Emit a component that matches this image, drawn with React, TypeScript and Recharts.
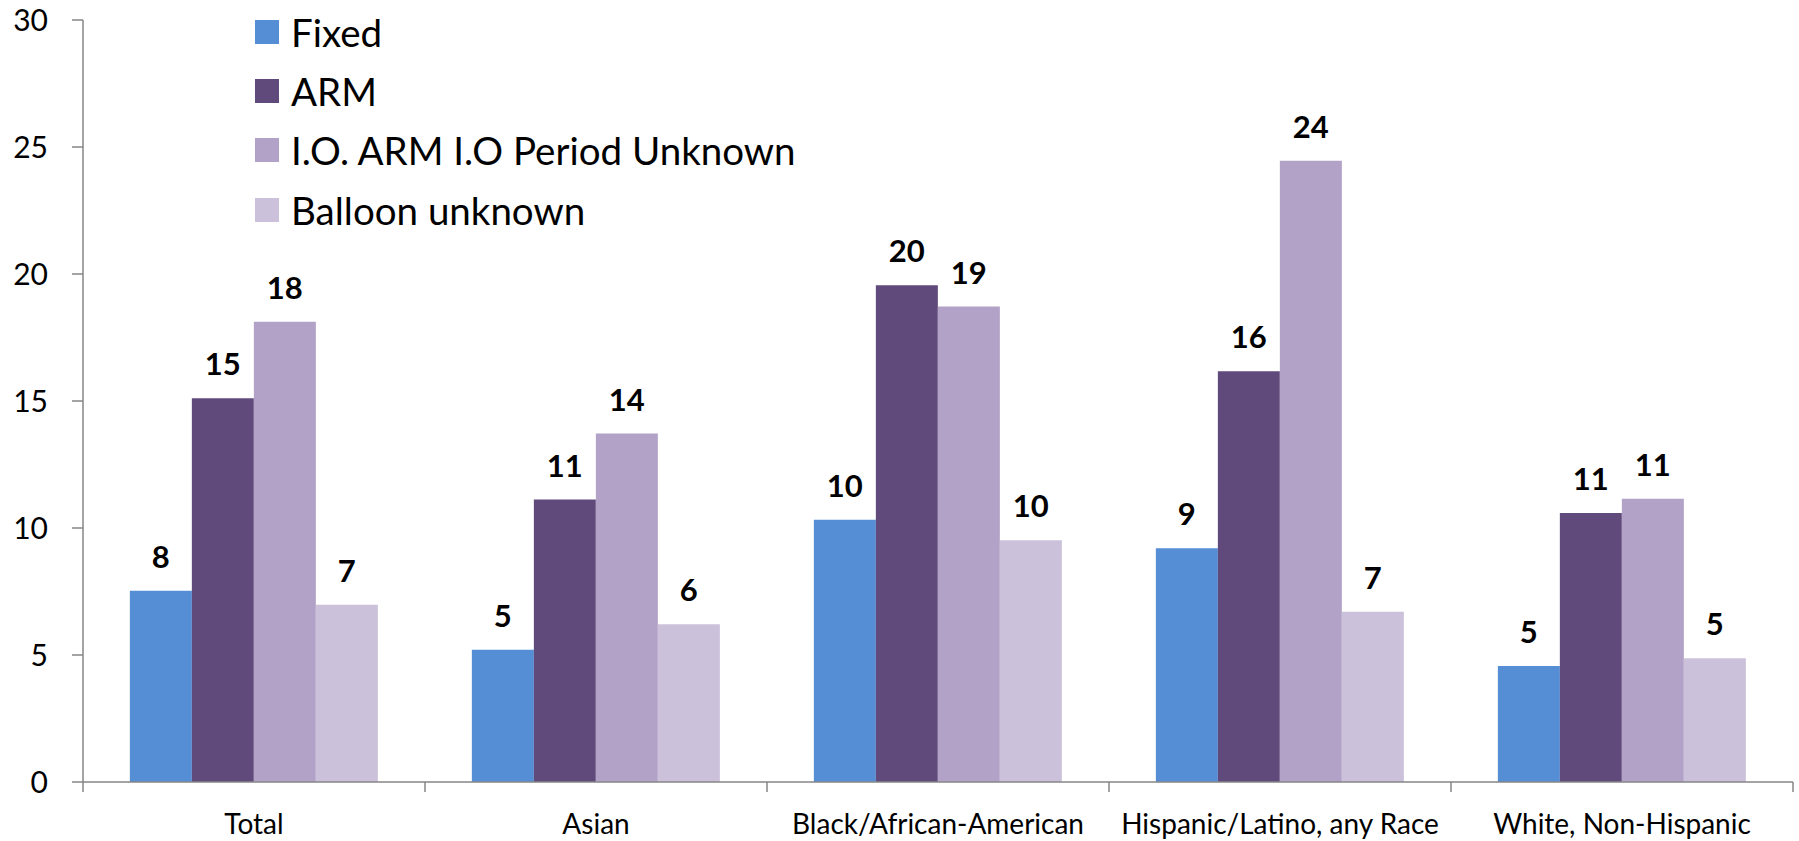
import React from 'react';
import { BarChart, Bar, XAxis, YAxis, Legend, LabelList } from 'recharts';

const categories = ['Total', 'Asian', 'Black/African-American', 'Hispanic/Latino, any Race', 'White, Non-Hispanic'];
const fixedValues = [7.53, 5.21, 10.32, 9.2, 4.57];
const armValues = [15.11, 11.12, 19.56, 16.17, 10.59];
const ioArmValues = [18.12, 13.72, 18.72, 24.46, 11.15];
const balloonValues = [6.98, 6.21, 9.52, 6.7, 4.87];
const yTicks = [0, 5, 10, 15, 20, 25, 30];

const series = [
  { key: 'fixed', name: 'Fixed', color: '#558ED5' },
  { key: 'arm', name: 'ARM', color: '#604A7B' },
  { key: 'ioArm', name: 'I.O. ARM I.O Period Unknown', color: '#B3A2C7' },
  { key: 'balloon', name: 'Balloon unknown', color: '#CCC1DA' },
];

const data = categories.map((name, i) => ({
  name,
  fixed: fixedValues[i],
  arm: armValues[i],
  ioArm: ioArmValues[i],
  balloon: balloonValues[i],
}));

const FONT = 'Lato, "Open Sans", sans-serif';
const AXIS_COLOR = '#868686';

// Excel-style category axis: tick marks on category boundaries, label in the middle
const CategoryTick = (props: any) => {
  const { x, y, payload, index, visibleTicksCount } = props;
  const half = payload && payload.offset ? payload.offset : 171;
  const last = index === visibleTicksCount - 1;
  return (
    <g>
      <line x1={x - half} x2={x - half} y1={y} y2={y + 10} stroke={AXIS_COLOR} strokeWidth={1.5} />
      {last && <line x1={x + half} x2={x + half} y1={y} y2={y + 10} stroke={AXIS_COLOR} strokeWidth={1.5} />}
      <text x={x} y={y + 41} textAnchor="middle" dominantBaseline="central" fontSize={28} fill="#000" fontFamily={FONT}>
        {payload.value}
      </text>
    </g>
  );
};

const renderLegend = () => (
  <div style={{ fontFamily: FONT }}>
    {series.map((s) => (
      <div key={s.key} style={{ display: 'flex', alignItems: 'center', height: 59.3 }}>
        <div style={{ width: 24, height: 24, background: s.color, marginRight: 12 }} />
        <span style={{ fontSize: 38.5, color: '#000', whiteSpace: 'nowrap' }}>{s.name}</span>
      </div>
    ))}
  </div>
);

export default function App() {
  return (
    <div style={{ position: 'absolute', left: 0, top: 0, background: '#fff' }}>
      <BarChart
        width={1799}
        height={841}
        data={data}
        margin={{ top: 20, right: 6, bottom: 0, left: 0 }}
        barCategoryGap="13.7%"
        barGap={0}
      >
        <XAxis
          dataKey="name"
          height={59}
          axisLine={{ stroke: AXIS_COLOR, strokeWidth: 1.5 }}
          tickLine={false}
          tickSize={0}
          tickMargin={0}
          interval={0}
          tick={<CategoryTick />}
        />
        <YAxis
          width={83}
          domain={[0, 30]}
          ticks={yTicks}
          interval={0}
          axisLine={{ stroke: AXIS_COLOR, strokeWidth: 1.5 }}
          tickLine={{ stroke: AXIS_COLOR, strokeWidth: 1.5 }}
          tickSize={11}
          tickMargin={24}
          tick={{ fontSize: 30, fill: '#000', fontFamily: FONT }}
        />
        <Legend
          layout="vertical"
          align="center"
          verticalAlign="middle"
          content={renderLegend}
          wrapperStyle={{ left: 255, top: 2, width: 'auto', height: 'auto' }}
        />
        {series.map((s) => (
          <Bar key={s.key} dataKey={s.key} name={s.name} fill={s.color} isAnimationActive={false}>
            <LabelList
              dataKey={s.key}
              position="top"
              offset={23}
              formatter={(v: any) => Math.round(Number(v))}
              style={{ fontSize: 31, fontWeight: 'bold', fill: '#000', fontFamily: FONT }}
            />
          </Bar>
        ))}
      </BarChart>
    </div>
  );
}
